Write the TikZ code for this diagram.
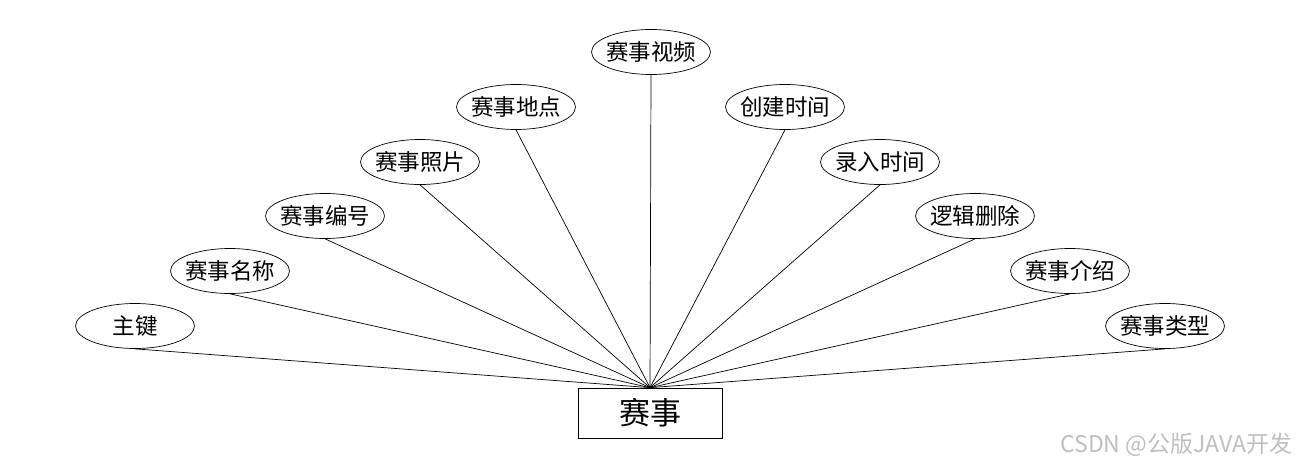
\documentclass[tikz,border=0pt]{standalone}
\usepackage{fontspec}
\setmainfont{Noto Sans CJK SC}
\usetikzlibrary{shapes.geometric}

\begin{document}
\begin{tikzpicture}[x=1pt,y=-1pt,line width=0.7pt,
  attr/.style={draw,ellipse,minimum width=119pt,minimum height=45pt,inner sep=0pt,font=\fontsize{22.5}{25}\selectfont},
  ent/.style={draw,rectangle,minimum width=144pt,minimum height=50pt,font=\fontsize{31}{34}\selectfont}]
\useasboundingbox (0,0) rectangle (1300,468);
\node[ent] (saishi) at (650,413) {赛事};
\foreach \name/\x/\y/\txt in {zj/135/326/主键, mc/230/271/赛事名称, bh/325/216/赛事编号,
  zp/420/162/赛事照片, dd/516/107/赛事地点, sp/651/52/赛事视频, cj/785/107/创建时间,
  lr/880/162/录入时间, sc/975/216/逻辑删除, js/1070/271/赛事介绍, lx/1165/326/赛事类型} {
  \node[attr] (\name) at (\x,\y) {\makebox[60pt]{\txt}};
  \draw (\name.south) -- (saishi.north);
}
% watermark
\node[text=black!25,font=\fontsize{23}{26}\selectfont,anchor=east] (wm) at (1296,445) {CSDN @公版JAVA开发};
\end{tikzpicture}
\end{document}
